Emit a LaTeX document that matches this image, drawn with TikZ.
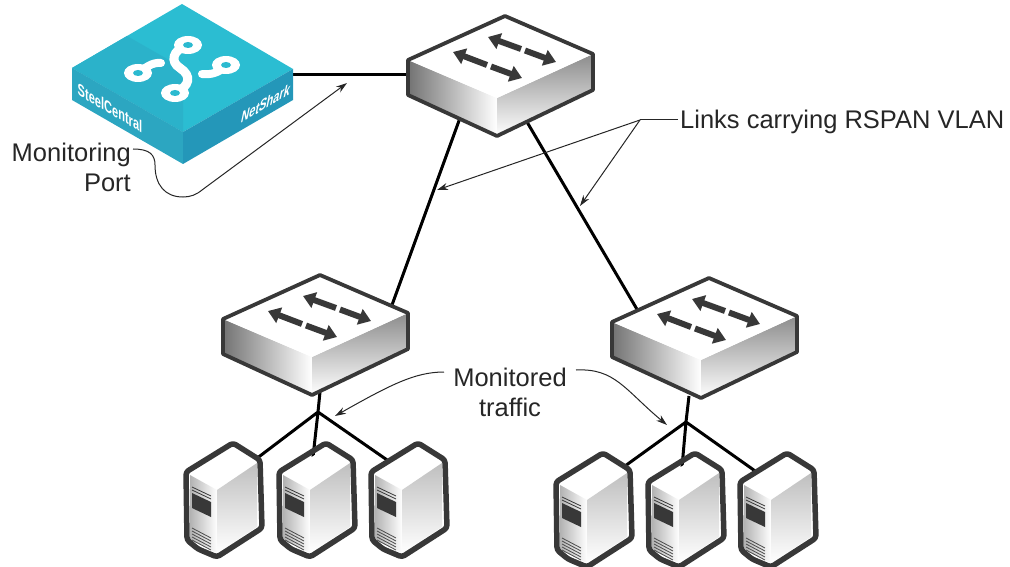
\documentclass[tikz,border=0pt]{standalone}
\usepackage{fontspec}
\setmainfont{Liberation Sans}
\usetikzlibrary{arrows.meta}
\definecolor{dk}{HTML}{383838}
\definecolor{teala}{HTML}{2BBDD2}
\definecolor{tealb}{HTML}{2BB2CA}
\definecolor{tealc}{HTML}{2CA6C1}
\definecolor{teald}{HTML}{2497B9}
\tikzset{
  link/.style={line width=3pt,draw=black},
  leader/.style={line width=1pt,draw=black!85,-{Stealth[length=11pt,width=7pt]}},
  leaderplain/.style={line width=1pt,draw=black!85},
  lbl/.style={font=\fontsize{25.5}{30}\selectfont,text=black!85,inner sep=0pt},
  badge/.style={font=\fontsize{14}{16}\selectfont\bfseries,text=white,inner sep=0pt},
  swarrow/.style={line width=6pt,draw=dk,-{Triangle[length=12pt,width=16pt]}},
  ring/.style={fill=white},
  hole/.style={fill=teala!75!tealb},
  pics/switchbox/.style={code={
    \shade[left color=black!55,right color=white] (-97,44) -- (-8,82) -- (-8,120) -- (-97,79) -- cycle;
    \shade[shading angle=20,top color=black!45,bottom color=white] (88,38) -- (-8,82) -- (-8,120) -- (88,74) -- cycle;
    \fill[white] (0,0) -- (88,38) -- (-8,82) -- (-97,44) -- cycle;
    \draw[line width=3.8pt,draw=dk,line join=round] (0,0) -- (88,38) -- (88,74) -- (-8,120) -- (-97,79) -- (-97,44) -- cycle;
    \draw[swarrow] (16,33) -- (-17,21);
    \draw[swarrow] (20,34.5) -- (51,46);
    \draw[swarrow] (-18,49) -- (-52,36);
    \draw[swarrow] (-14,50.5) -- (17,62);
  }},
  pics/serverbox/.style={code={
    \fill[white] (0,5) -- (24,20) -- (-16,47) -- (-43,32) -- cycle;
    \shade[left color=black!30,right color=white] (-43,32) -- (-16,47) -- (-16,110) -- (-43,97) -- cycle;
    \shade[top color=black!25,bottom color=white] (24,20) -- (-16,47) -- (-16,110) -- (24,84) -- cycle;
    \draw[line width=5.5pt,draw=dk,line join=round,rounded corners=3pt] (0,0) -- (27,17) -- (29,85) -- (-16,114) -- (-35,106) -- (-46,97) -- (-47,29) -- cycle;
    \fill[dk] (-41,50) -- (-22,59) -- (-22,74) -- (-41,65) -- cycle;
    \draw[line width=.8pt,draw=dk] (-41,44) -- (-22,53) (-41,47) -- (-22,56);
    \draw[line width=.8pt,draw=black!70] (-41,85) -- (-22,95) (-41,88) -- (-22,98) (-41,91) -- (-22,101) (-41,94) -- (-22,104) (-41,97) -- (-22,107);
  }}
}
\begin{document}
\begin{tikzpicture}[x=1pt,y=-1pt]
\useasboundingbox (0,0) rectangle (1010,567);
% anchor coordinates
\coordinate (swT) at (505,16);
\coordinate (swL) at (320,275);
\coordinate (swR) at (709,278);
\coordinate (nsPort) at (293,75);
\coordinate (swTw) at (408,75);
\coordinate (swTs) at (460,118);
\coordinate (swTe) at (527,122);
\coordinate (swLn) at (392,305);
\coordinate (swRn) at (638,311);
\coordinate (jL) at (318,412);
\coordinate (jLtop) at (320,392);
\coordinate (s1) at (233,443);
\coordinate (s2) at (326,443);
\coordinate (s3) at (418,443);
\coordinate (s1c) at (256,459);
\coordinate (s2c) at (313,457);
\coordinate (s3c) at (390,462);
\coordinate (jR) at (686,422);
\coordinate (jRtop) at (689,396);
\coordinate (s4) at (603,453);
\coordinate (s5) at (695,453);
\coordinate (s6) at (787,453);
\coordinate (s4c) at (625,466);
\coordinate (s5c) at (682,467);
\coordinate (s6c) at (758,473);
% links
\draw[link] (nsPort) -- (swTw);
\draw[link] (swTs) -- (swLn);
\draw[link] (swTe) -- (swRn);
\draw[link] (jLtop) -- (jL) (jL) -- (s1c) (jL) -- (s2c) (jL) -- (s3c);
\draw[link] (jRtop) -- (jR) (jR) -- (s4c) (jR) -- (s5c) (jR) -- (s6c);
% switches and servers
\pic at (swT) {switchbox};
\pic at (swL) {switchbox};
\pic at (swR) {switchbox};
\pic at (s1) {serverbox};
\pic at (s2) {serverbox};
\pic at (s3) {serverbox};
\pic at (s4) {serverbox};
\pic at (s5) {serverbox};
\pic at (s6) {serverbox};
% NetShark
\fill[teala] (182,4) -- (293,69) -- (183,132) -- (72,68) -- cycle;
\fill[tealb] (72,68) -- (183,132) -- (183,68) -- (127,36) -- cycle;
\fill[tealc] (72,68) -- (183,132) -- (183,164) -- (72,100) -- cycle;
\fill[teald] (293,69) -- (183,132) -- (183,164) -- (293,100) -- cycle;
\draw[white,line width=9pt,line cap=round] (188,45) .. controls (172,50) and (170,62) .. (180,68) .. controls (192,76) and (190,86) .. (175,93);
\draw[white,line width=8pt,line cap=round] (138,73) .. controls (145,68) and (152,62) .. (161,63);
\draw[white,line width=8pt,line cap=round] (226,65) .. controls (220,73) and (210,75) .. (202,74);
\foreach \nm/\cx/\cy in {a/138/73,b/188/45,c/226/65,d/175/93}{
  \fill[ring] (\cx,\cy) ellipse [x radius=14,y radius=9];
  \fill[hole] (\cx,\cy) ellipse [x radius=5,y radius=3];
}
\node[badge,transform shape,cm={.79,-.47,0,1.2,(0,0)}] (brandL) at (110,108) {SteelCentral};
\node[badge,transform shape,cm={.79,.47,.25,1.2,(0,0)}] (brandR) at (266,103) {NetShark};
% labels
\node[lbl,anchor=east,align=right] (lblMon) at (131,167) {Monitoring\\Port};
\node[lbl,anchor=west] (lblLinks) at (680,122) {Links carrying RSPAN VLAN};
\node[lbl,align=center] (lblTraf) at (510,392) {Monitored\\traffic};
% leaders
\coordinate (lmFrom) at (133,149);
\coordinate (lmTo) at (347,83);
\draw[leader] (lmFrom) .. controls (150,149) and (155,155) .. (155,165) .. controls (155,185) and (165,197) .. (183,197) .. controls (190,197) and (196,195) .. (202,190) -- (lmTo);
\coordinate (llFrom) at (678,120);
\coordinate (llMid) at (640,120);
\coordinate (llA) at (437,190);
\coordinate (llB) at (580,206);
\draw[leaderplain] (llFrom) -- (llMid);
\draw[leader] (llMid) -- (llA);
\draw[leader] (llMid) -- (llB);
\coordinate (tA) at (444,372);
\coordinate (tB) at (576,370);
\coordinate (tAe) at (335,416);
\coordinate (tBe) at (667,425);
\draw[leader] (tA) .. controls (415,372) and (390,385) .. (tAe);
\draw[leader] (tB) .. controls (615,368) and (625,390) .. (tBe);
\end{tikzpicture}
\end{document}
